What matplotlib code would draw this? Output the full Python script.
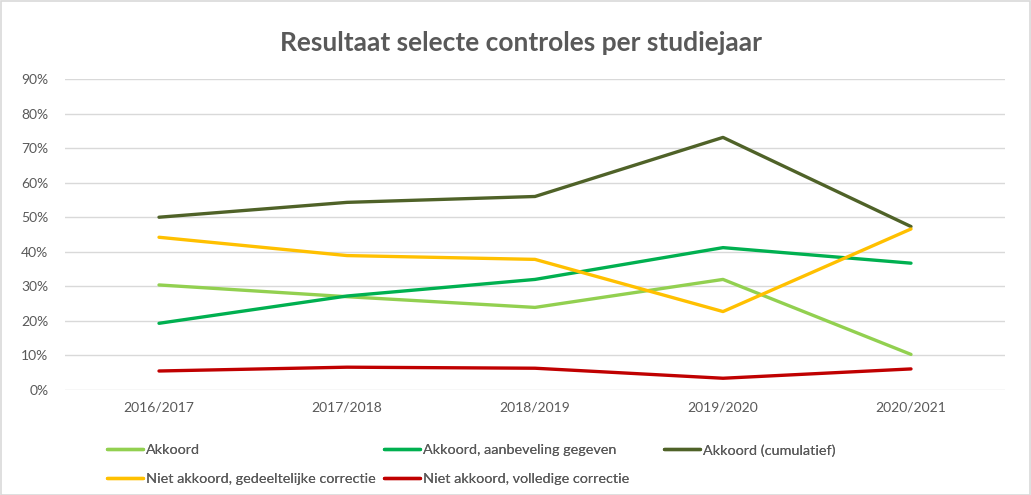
import matplotlib
matplotlib.use("Agg")
import matplotlib.pyplot as plt
from matplotlib.patches import Rectangle
from matplotlib.ticker import PercentFormatter

plt.rcParams['font.family'] = ['Lato', 'DejaVu Sans']

years = ["2016/2017", "2017/2018", "2018/2019", "2019/2020", "2020/2021"]
akkoord = [30.4, 27.0, 23.9, 32.0, 10.3]
akkoord_aanbeveling = [19.3, 27.2, 32.0, 41.2, 36.7]
akkoord_cumulatief = [50.0, 54.3, 56.0, 73.1, 47.3]
niet_gedeeltelijk = [44.2, 38.9, 37.8, 22.7, 46.6]
niet_volledig = [5.5, 6.6, 6.3, 3.4, 6.1]

series = [
    ("Akkoord", akkoord, "#92D050"),
    ("Akkoord, aanbeveling gegeven", akkoord_aanbeveling, "#00B050"),
    ("Akkoord (cumulatief)", akkoord_cumulatief, "#4F6228"),
    ("Niet akkoord, gedeeltelijke correctie", niet_gedeeltelijk, "#FFC000"),
    ("Niet akkoord, volledige correctie", niet_volledig, "#C00000"),
]

W, H = 1031, 495
fig = plt.figure(figsize=(W / 100, H / 100), dpi=100)
fig.patches.append(Rectangle((0.5 / W, 0.5 / H), 1 - 1.5 / W, 1 - 1.5 / H, transform=fig.transFigure,
                             fill=False, edgecolor="#D9D9D9", linewidth=1.2))

ax = fig.add_axes([65 / W, (H - 390) / H, 940 / W, 311 / H])
x = list(range(len(years)))
handles = {}
for name, vals, col in series:
    (ln,) = ax.plot(x, [v / 100 for v in vals], color=col, linewidth=2.4, label=name,
                    solid_capstyle="round", zorder=3)
    handles[name] = ln

ax.set_xlim(-0.5, len(years) - 0.5)
ax.set_ylim(0, 0.9)
ax.set_yticks([i / 10 for i in range(10)])
ax.yaxis.set_major_formatter(PercentFormatter(1.0, decimals=0))
ax.set_xticks(x)
ax.set_xticklabels(years)
ax.grid(axis="y", color="#D9D9D9", linewidth=1)
ax.set_axisbelow(True)
for s in ax.spines.values():
    s.set_visible(False)
ax.tick_params(axis="both", length=0, labelsize=10, labelcolor="#595959")
ax.tick_params(axis="y", pad=12)
ax.tick_params(axis="x", pad=8)

fig.text(521 / W, (H - 43) / H, "Resultaat selecte controles per studiejaar", ha="center", va="center",
         fontsize=19, fontweight="bold", color="#595959")

columns = [
    (107, ["Akkoord", "Niet akkoord, gedeeltelijke correctie"]),
    (384, ["Akkoord, aanbeveling gegeven", "Niet akkoord, volledige correctie"]),
    (664, ["Akkoord (cumulatief)"]),
]
for xpos, names in columns:
    leg = fig.legend([handles[n] for n in names], names, ncol=1, loc="upper left",
                     bbox_to_anchor=(xpos / W, (H - 444) / H), frameon=False, fontsize=10.4,
                     handlelength=2.5, handletextpad=0.2, labelspacing=1.15,
                     borderaxespad=0, borderpad=0, labelcolor="#595959")
    fig.add_artist(leg)

fig.savefig("out.png", dpi=100)
